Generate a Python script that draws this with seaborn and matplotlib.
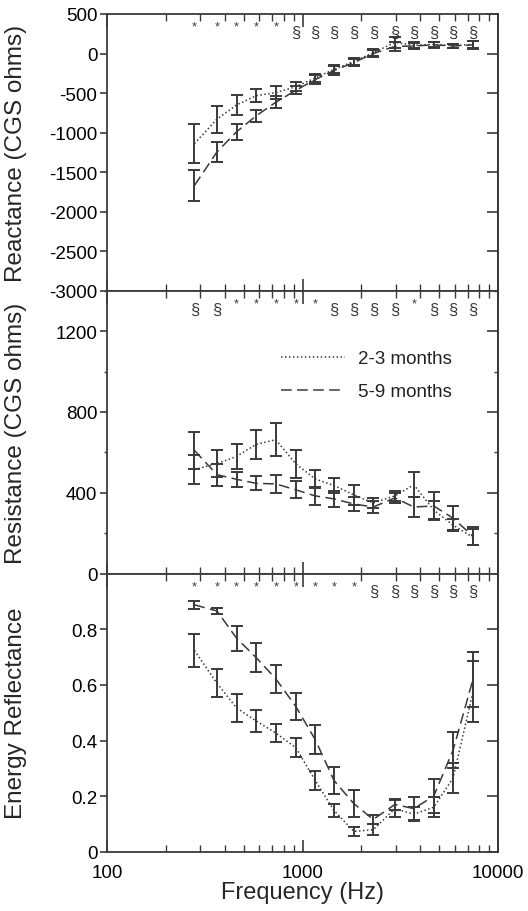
import numpy as np
import pandas as pd
import matplotlib
matplotlib.use("Agg")
import matplotlib.pyplot as plt
from matplotlib.ticker import (MultipleLocator, LogLocator, NullFormatter, FixedLocator,
                               FuncFormatter)
import seaborn as sns

sns.set_theme(style="white")
plt.rcParams['font.family'] = ['Liberation Sans', 'DejaVu Sans']

# ---------------- data ----------------
freqs = [280, 365, 460, 580, 730, 925, 1160, 1450, 1830, 2300, 2970, 3710, 4690, 5890, 7450]

react_young = [-1140, -830, -650, -533, -495, -420, -310, -200, -100, 10, 140, 105, 115, 100, 115]
react_young_err = [250, 170, 127, 85, 80, 60, 50, 50, 45, 45, 70, 35, 30, 25, 45]
react_old = [-1670, -1245, -990, -787, -617, -465, -330, -215, -115, 0, 90, 95, 110, 95, 110]
react_old_err = [200, 122, 100, 76, 76, 50, 55, 55, 45, 45, 55, 40, 35, 25, 50]

resist_young = [515, 545, 580, 640, 663, 543, 469, 436, 390, 350, 385, 440, 315, 240, 180]
resist_young_err = [70, 65, 60, 72, 82, 68, 46, 38, 48, 25, 25, 62, 45, 30, 40]
resist_old = [610, 490, 467, 447, 444, 415, 385, 370, 345, 330, 375, 330, 335, 275, 185]
resist_old_err = [90, 55, 38, 35, 44, 42, 44, 40, 35, 28, 25, 50, 70, 60, 45]

refl_young = [0.724, 0.606, 0.517, 0.470, 0.427, 0.374, 0.257, 0.148, 0.073, 0.079, 0.155, 0.135, 0.160, 0.265, 0.575]
refl_young_err = [0.060, 0.050, 0.050, 0.038, 0.033, 0.034, 0.034, 0.024, 0.015, 0.020, 0.030, 0.025, 0.035, 0.055, 0.110]
refl_old = [0.888, 0.866, 0.768, 0.698, 0.622, 0.522, 0.404, 0.256, 0.173, 0.116, 0.170, 0.155, 0.200, 0.365, 0.620]
refl_old_err = [0.015, 0.010, 0.045, 0.053, 0.050, 0.050, 0.052, 0.050, 0.049, 0.016, 0.020, 0.040, 0.060, 0.065, 0.100]

react_sig = ['*'] * 5 + ['§'] * 10
resist_sig = ['§', '§', '*', '*', '*', '*', '*', '§', '§', '§', '§', '*', '§', '§', '§']
refl_sig = ['*'] * 9 + ['§'] * 6

groups = ['2-3 months', '5-9 months']

panels = [
    dict(young=react_young, yerr=react_young_err, old=react_old, oerr=react_old_err,
         sig=react_sig, ylabel='Reactance (CGS ohms)', ylim=(-3000, 500),
         major=[-3000, -2500, -2000, -1500, -1000, -500, 0, 500], minor=None,
         labels=['-3000', '-2500', '-2000', '-1500', '-1000', '-500', '0', '500']),
    dict(young=resist_young, yerr=resist_young_err, old=resist_old, oerr=resist_old_err,
         sig=resist_sig, ylabel='Resistance (CGS ohms)', ylim=(0, 1400),
         major=[0, 400, 800, 1200], minor=200,
         labels=['0', '400', '800', '1200']),
    dict(young=refl_young, yerr=refl_young_err, old=refl_old, oerr=refl_old_err,
         sig=refl_sig, ylabel='Energy Reflectance', ylim=(0, 1.0),
         major=[0, 0.2, 0.4, 0.6, 0.8], minor=None,
         labels=['0', '0.2', '0.4', '0.6', '0.8']),
]

W, H = 528, 912
fig = plt.figure(figsize=(W / 100, H / 100), dpi=100)
left, right = 107 / W, 498 / W
edges = [15, 291.7, 574.7, 852.7]
ink = '#3a3a3a'

for i, p in enumerate(panels):
    top = 1 - edges[i] / H
    bot = 1 - edges[i + 1] / H
    ax = fig.add_axes([left, bot, right - left, top - bot])
    df = pd.DataFrame({
        'freq': freqs * 2,
        'value': list(p['young']) + list(p['old']),
        'group': [groups[0]] * len(freqs) + [groups[1]] * len(freqs),
    })
    sns.lineplot(data=df, x='freq', y='value', style='group', ax=ax,
                 dashes={groups[0]: (1, 1.6), groups[1]: (7, 3.5)},
                 color=ink, linewidth=1.1, legend=(i == 1))
    ax.errorbar(freqs, p['young'], yerr=p['yerr'], fmt='none', ecolor=ink,
                elinewidth=1.4, capsize=4, capthick=1.4)
    ax.errorbar(freqs, p['old'], yerr=p['oerr'], fmt='none', ecolor=ink,
                elinewidth=1.4, capsize=4, capthick=1.4)

    ax.set_xscale('log')
    ax.set_xlim(100, 10000)
    ax.set_ylim(*p['ylim'])
    ax.yaxis.set_major_locator(FixedLocator(p['major']))
    ax.set_yticklabels(p['labels'])
    if p['minor']:
        ax.yaxis.set_minor_locator(MultipleLocator(p['minor']))
    ax.xaxis.set_major_locator(LogLocator(base=10))
    ax.xaxis.set_major_formatter(FuncFormatter(lambda v, pos: f'{v:.0f}'))
    ax.xaxis.set_minor_locator(LogLocator(base=10, subs=np.arange(2, 10)))
    ax.xaxis.set_minor_formatter(NullFormatter())

    for s in ax.spines.values():
        s.set_color(ink)
        s.set_linewidth(1.3)

    ax.tick_params(axis='x', which='major', direction='in', length=9, width=1.2,
                   colors=ink, top=True, bottom=True, labelsize=13.5, labelcolor='black',
                   pad=9)
    ax.tick_params(axis='x', which='minor', direction='in', length=5, width=1.0,
                   colors=ink, top=True, bottom=True)
    ax.tick_params(axis='y', which='major', direction='out', length=5, width=1.2,
                   colors=ink, left=True, right=False, labelsize=13.5, labelcolor='black', pad=2)
    ax.tick_params(axis='y', which='minor', direction='out', length=2, width=1.0,
                   colors=ink, left=True, right=False)

    sec = ax.secondary_yaxis('right')
    sec.yaxis.set_major_locator(FixedLocator(p['major']))
    if p['minor']:
        sec.yaxis.set_minor_locator(MultipleLocator(p['minor']))
    sec.tick_params(axis='y', which='major', direction='in', length=8, width=1.2, colors=ink,
                    labelright=False)
    sec.tick_params(axis='y', which='minor', direction='in', length=3, width=1.0, colors=ink)
    sec.spines['right'].set_color(ink)
    sec.spines['right'].set_linewidth(1.3)

    if i < 2:
        ax.tick_params(axis='x', labelbottom=False)
        ax.set_xlabel('')
    else:
        ax.set_xlabel('Frequency (Hz)', fontsize=17, labelpad=0)

    ax.set_ylabel(p['ylabel'], fontsize=17.5)
    ax.yaxis.set_label_coords(-0.205, 0.5)

    # significance markers
    trans = ax.get_xaxis_transform()
    for f, s in zip(freqs, p['sig']):
        if s == '*':
            ax.text(f, 0.955, '*', transform=trans, ha='center', va='center',
                    fontsize=9, color=ink)
        else:
            ax.text(f, 0.935, '§', transform=trans, ha='center', va='center',
                    fontsize=12, color=ink)

    if i == 1:
        leg = ax.legend(loc='upper left', bbox_to_anchor=(0.445, 0.79), frameon=False,
                        fontsize=13.5, handlelength=3.4, handletextpad=0.7,
                        labelspacing=0.85, borderaxespad=0, borderpad=0)
        for h in leg.get_lines():
            h.set_color(ink)
            h.set_linewidth(1.1)
        for t in leg.get_texts():
            t.set_color('#222222')

fig.savefig('out.png', dpi=100)
